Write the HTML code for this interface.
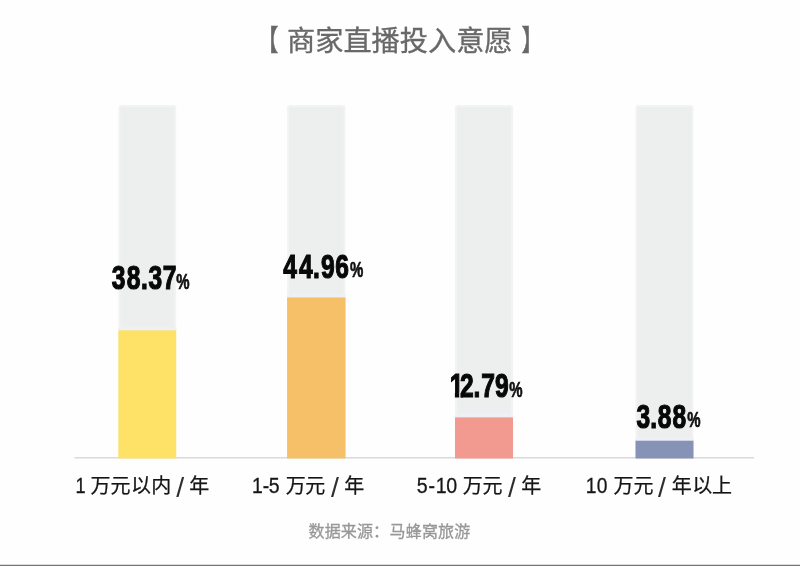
<!DOCTYPE html>
<html lang="zh-CN">
<head>
<meta charset="utf-8">
<title>商家直播投入意愿</title>
<style>
  html, body { margin: 0; padding: 0; background: #ffffff; }
  body { width: 800px; height: 566px; overflow: hidden; position: relative; }
  svg { display: block; position: absolute; left: 0; top: 0; }
  .title { font-family: "Liberation Sans", "Noto Sans CJK SC", sans-serif; font-size: 28.2px; font-weight: 400; fill: #686868; stroke: #686868; stroke-width: 0.35px; }
  .brk { font-size: 29px; stroke-width: 0.5px; }
  .cat { font-family: "Liberation Sans", "Noto Sans CJK SC", sans-serif; font-size: 20px; font-weight: 400; fill: #161616; stroke: #161616; stroke-width: 0.25px; }
  .lat { font-size: 21.6px; stroke-width: 0.3px; }
  .sl { font-size: 28.5px; stroke: none; fill: #2e2e2e; }
  .src { font-family: "Liberation Sans", "Noto Sans CJK SC", sans-serif; font-size: 16px; font-weight: 400; fill: #979797; stroke: #979797; stroke-width: 0.3px; }
  .num { font-family: "Liberation Sans", sans-serif; font-weight: bold; font-size: 33px; fill: #080808; stroke: #080808; stroke-width: 1.2px; stroke-linejoin: miter; }
  .pct { font-size: 21.3px; fill: #101010; stroke: #101010; stroke-width: 0.7px; }
</style>
</head>
<body>
<svg width="800" height="566" viewBox="0 0 800 566">
  <rect x="0" y="0" width="800" height="566" fill="#fefefe"/>

  <!-- title -->
  <text class="title"><tspan class="brk" x="256.9" y="51" textLength="21.43" lengthAdjust="spacingAndGlyphs">【</tspan><tspan> </tspan><tspan x="287.0" y="50.5">商家直播投入意愿</tspan><tspan> </tspan><tspan class="brk" x="521.45" y="51" textLength="21.43" lengthAdjust="spacingAndGlyphs">】</tspan></text>

  <!-- axis -->
  <rect x="74.5" y="457" width="679.5" height="1.5" fill="#d9d9d9"/>

  <!-- track bars -->
  <g fill="#edeeee" stroke="#f2f3f3" stroke-width="2">
    <rect x="119.4" y="106" width="55.8" height="351" rx="1.5"/>
    <rect x="288.1" y="106" width="56.4" height="351" rx="1.5"/>
    <rect x="456.0" y="106" width="56.0" height="351" rx="1.5"/>
    <rect x="636.5" y="106" width="56.0" height="351" rx="1.5"/>
  </g>

  <!-- light seam above each value bar -->
  <g fill="#eef0f6">
    <rect x="118.4" y="327.0" width="57.8" height="3.5"/>
    <rect x="287.1" y="294.2" width="58.4" height="3.5"/>
    <rect x="455.0" y="414.1" width="58.0" height="3.5"/>
    <rect x="635.5" y="437.4" width="58.0" height="3.5"/>
  </g>

  <!-- value bars -->
  <rect x="118.4" y="330.3" width="57.8" height="128.2" fill="#fde267"/>
  <rect x="287.1" y="297.5" width="58.4" height="161.0" fill="#f6c068"/>
  <rect x="455.0" y="417.4" width="58.0" height="41.1" fill="#f29990"/>
  <rect x="635.5" y="440.7" width="58.0" height="17.8" fill="#8793b6"/>

  <!-- values -->
  <text class="num"><tspan x="111.78 126.75 140.95 148.43 162.63" y="288.9" textLength="61.52" lengthAdjust="spacingAndGlyphs">38.37</tspan><tspan class="pct" x="176.27" y="288.6" textLength="13.27" lengthAdjust="spacingAndGlyphs">%</tspan></text>
  <text class="num"><tspan x="283.34 299.09 313.10 320.94 335.26" y="278.2" textLength="61.52" lengthAdjust="spacingAndGlyphs">44.96</tspan><tspan class="pct" x="350.07" y="277.3" textLength="13.27" lengthAdjust="spacingAndGlyphs">%</tspan></text>
  <text class="num"><tspan x="449.64 460.03 473.42 481.33 495.09" y="396.9" textLength="61.52" lengthAdjust="spacingAndGlyphs">12.79</tspan><tspan class="pct" x="509.27" y="396.6" textLength="13.27" lengthAdjust="spacingAndGlyphs">%</tspan></text>
  <rect x="449.94" y="392.57" width="4.93" height="5.62" fill="#fefefe"/>
  <rect x="459.20" y="392.57" width="1.25" height="5.62" fill="#edeeee"/>
  <text class="num"><tspan x="636.43 650.35 657.85 672.45" y="427.7" textLength="47.85" lengthAdjust="spacingAndGlyphs">3.88</tspan><tspan class="pct" x="687.17" y="427.4" textLength="13.27" lengthAdjust="spacingAndGlyphs">%</tspan></text>
  <!-- categories -->
  <text class="cat"><tspan class="lat" x="75.39" y="492.7" textLength="10.12" lengthAdjust="spacingAndGlyphs">1</tspan><tspan> </tspan><tspan x="90.5 110.6 131 151.2" y="493.4">万元以内</tspan><tspan> </tspan><tspan class="sl" x="176.2" y="496.9">/</tspan><tspan> </tspan><tspan x="189.3" y="493.4">年</tspan></text>
  <text class="cat"><tspan class="lat" x="251.92 262.66 268.65" y="492.7" textLength="28.15" lengthAdjust="spacingAndGlyphs">1-5</tspan><tspan> </tspan><tspan x="285.7 305.3" y="493.4">万元</tspan><tspan> </tspan><tspan class="sl" x="331" y="496.9">/</tspan><tspan> </tspan><tspan x="344.2" y="493.4">年</tspan></text>
  <text class="cat"><tspan class="lat" x="416.67 428.49 435.73 446.35" y="492.7" textLength="39.24" lengthAdjust="spacingAndGlyphs">5-10</tspan><tspan> </tspan><tspan x="462.7 482.6" y="493.4">万元</tspan><tspan> </tspan><tspan class="sl" x="508.1" y="496.9">/</tspan><tspan> </tspan><tspan x="521.2" y="493.4">年</tspan></text>
  <text class="cat"><tspan class="lat" x="585.75 596.81" y="492.7" textLength="21.37" lengthAdjust="spacingAndGlyphs">10</tspan><tspan> </tspan><tspan x="613.6 633.5" y="493.4">万元</tspan><tspan> </tspan><tspan class="sl" x="658.1" y="496.9">/</tspan><tspan> </tspan><tspan x="671.8 692.2 712" y="493.4">年以上</tspan></text>
  <!-- source -->
  <text class="src" x="308.5 324.65 340.8 356.95 373.1 389.6 405.75 421.9 438.05 454.2" y="536.6">数据来源：马蜂窝旅游</text>

  <!-- bottom rule -->
  <rect x="0" y="564.75" width="800" height="1.25" fill="#757575"/>
</svg>
</body>
</html>
